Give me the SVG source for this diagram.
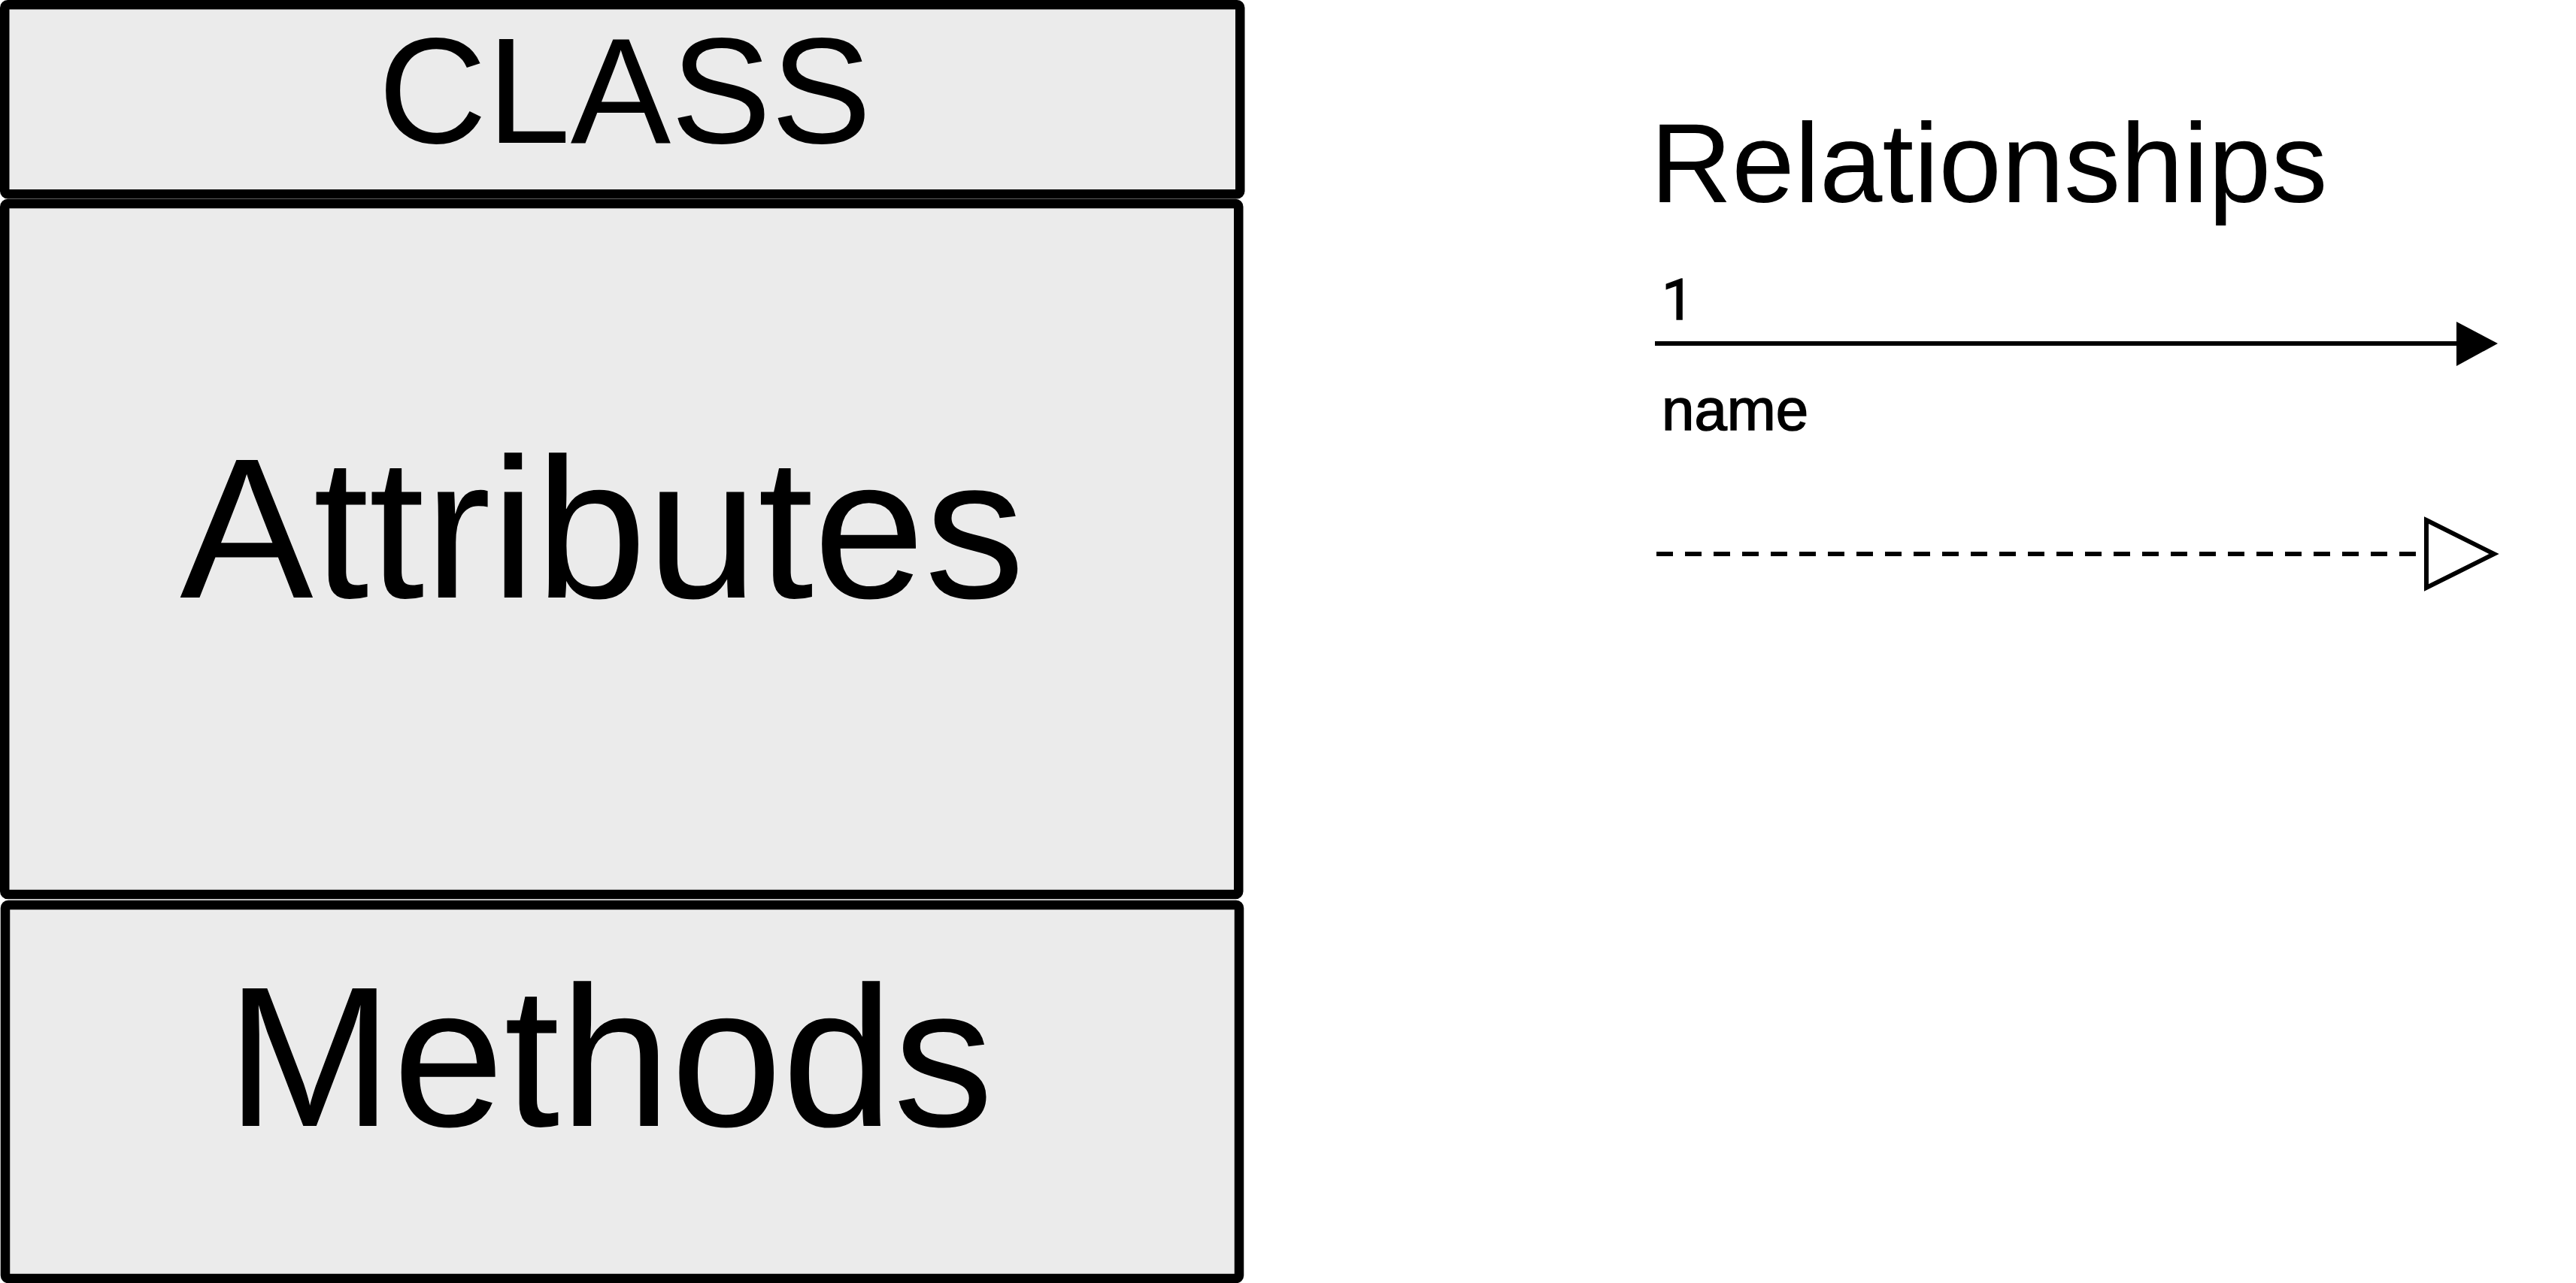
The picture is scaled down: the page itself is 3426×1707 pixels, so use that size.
<svg xmlns="http://www.w3.org/2000/svg" width="3426" height="1707" viewBox="0 0 3426 1707">
<style>
.box{fill:#ebebeb;stroke:#000;stroke-width:12.5}
.big{font-family:"Liberation Sans",Arial,sans-serif;fill:#000;text-anchor:middle}
.lbl{font-family:"Liberation Sans",Arial,sans-serif;fill:#000}
.one{font-family:Roboto,"Liberation Sans",sans-serif;fill:#000}
.sm{stroke:#000;stroke-width:1.5}
.conn{stroke:#000;stroke-width:6;fill:none}
</style>
<rect width="3426" height="1707" fill="#fff"/>
<g id="class-name">
<rect class="box" x="6.25" y="6.25" width="1643" height="252" rx="4"/>
<text class="big" x="831" y="190" font-size="200">CLASS</text>
</g>
<g id="attributes">
<rect class="box" x="6.25" y="271" width="1641" height="919" rx="4"/>
<text class="big" x="801" y="795" font-size="266">Attributes</text>
</g>
<g id="methods">
<rect class="box" x="7" y="1204" width="1641" height="497" rx="4"/>
<text class="big" x="811" y="1498" font-size="266">Methods</text>
</g>
<g id="legend-title">
<text class="lbl" x="2195" y="269" font-size="150">Relationships</text>
</g>
<g id="connectors">
<line class="conn" x1="2201" y1="457" x2="3270" y2="457"/>
<polygon points="3267,428 3322,457 3267,487" fill="#000"/>
<text class="one sm" x="2210" y="425" font-size="76">1</text>
<text class="lbl sm" x="2210" y="572" font-size="78">name</text>
<line class="conn" x1="2203" y1="737" x2="3227" y2="737" stroke-dasharray="22 16"/>
<polygon points="3227,692 3317,737 3227,782" fill="#fff" stroke="#000" stroke-width="6" stroke-linejoin="miter"/>
</g>
</svg>
